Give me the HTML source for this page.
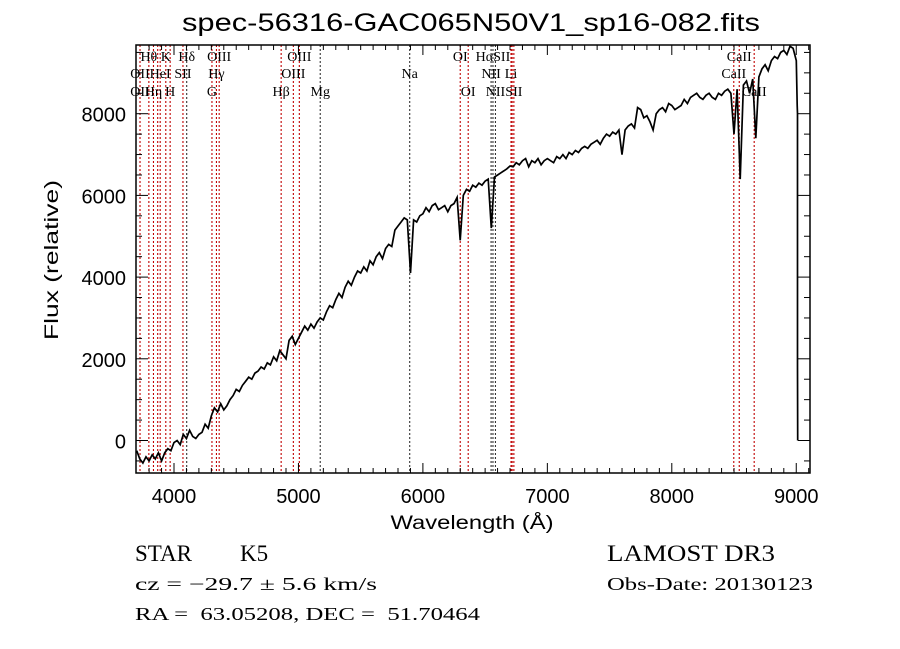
<!DOCTYPE html>
<html><head><meta charset="utf-8"><style>
html,body{margin:0;padding:0;background:#fff;}
svg{display:block;}
</style></head><body>
<svg id="chart" width="900" height="649" xmlns="http://www.w3.org/2000/svg">
<rect width="900" height="649" fill="#fff"/>
<text x="471" y="31" font-family="Liberation Sans, sans-serif" font-size="25" text-anchor="middle" textLength="578" lengthAdjust="spacingAndGlyphs">spec-56316-GAC065N50V1_sp16-082.fits</text>
<g id="lines"></g>
<g id="labels" font-family="Liberation Serif, serif" font-size="14"></g>
<g id="spec"></g>
<g id="axes"></g>
<text x="472" y="529" font-family="Liberation Sans, sans-serif" font-size="19" text-anchor="middle" textLength="163" lengthAdjust="spacingAndGlyphs">Wavelength (Å)</text>
<text transform="translate(58,260) rotate(-90)" font-family="Liberation Sans, sans-serif" font-size="19" text-anchor="middle" textLength="160" lengthAdjust="spacingAndGlyphs">Flux (relative)</text>
<g font-family="Liberation Serif, serif">
<text x="135" y="561" font-size="23">STAR</text>
<text x="240" y="561" font-size="23">K5</text>
<text x="135" y="590" font-size="18" textLength="242" lengthAdjust="spacingAndGlyphs">cz = −29.7 ± 5.6 km/s</text>
<text x="135" y="620" font-size="18" textLength="345" lengthAdjust="spacingAndGlyphs" xml:space="preserve">RA =  63.05208, DEC =  51.70464</text>
<text x="607" y="561" font-size="23" textLength="168" lengthAdjust="spacingAndGlyphs">LAMOST DR3</text>
<text x="607" y="590" font-size="18" textLength="206" lengthAdjust="spacingAndGlyphs">Obs-Date: 20130123</text>
</g>
</svg>
<script>
const fluxStart = 3700;
const fluxStep = 25;
const fluxValues = [
-250,-450,-550,-400,-500,-350,-450,-300,-500,-300,-200,-250,-50,
0,-100,150,50,250,100,50,150,200,400,300,600,
800,700,900,750,850,1000,1100,1250,1200,1350,1450,1550,
1500,1650,1700,1800,1750,1900,1850,2050,1950,2200,2100,2000,
2450,2550,2350,2500,2650,2800,2700,2850,2750,2900,3000,2950,
3150,3300,3250,3450,3600,3500,3750,3900,3800,4000,4150,4100,
4250,4150,4400,4300,4500,4600,4450,4700,4800,4750,5150,5250,
5350,5450,5400,4100,5400,5350,5500,5550,5700,5600,5750,5800,
5650,5700,5750,5600,5750,5800,5950,4900,6000,6150,6100,6250,
6200,6300,6250,6350,6400,5200,6450,6500,6550,6600,6650,6720,
6700,6800,6750,6850,6900,6700,6850,6800,6900,6750,6850,6900,
6850,6800,6950,6900,7000,6900,7050,7000,7100,7050,7150,7200,
7150,7250,7300,7350,7250,7400,7500,7450,7550,7500,7600,7000,
7600,7700,7750,7650,8150,8100,7900,7950,7800,7600,8000,8100,
8150,8050,8250,8200,8100,8150,8200,8350,8250,8400,8450,8500,
8400,8350,8450,8500,8400,8350,8500,8450,8550,8600,8500,7500,
8600,6400,8700,8800,8500,8850,7400,8900,9100,9200,9050,9300,
9400,9350,9500,9550,9450,9650,9600,9300
];
const tailWaves = [9008, 9010, 9010, 9012];
const tailFlux = [8200, 8000, 1800, 0];
const markerWaves = [3727,3798,3835,3869,3889,3934,3969,4072,4102,4305,4341,4363,4861,4959,5007,5175,5894,6300,6364,6548,6563,6583,6708,6717,6731,8498,8542,8662];
const markerRed = [1,1,1,1,1,1,1,1,0,1,1,1,1,1,1,0,0,1,1,0,0,0,1,1,1,1,1,1];
const labelText = ["Hθ","K","Hδ","OIII","OIII","OI","HαSII","CaII","OII","HeI","SII","Hγ","OIII","Na","NII","Li","CaII","OII","Hη","H","G","Hβ","Mg","OI","NII","SII","CaII"];
const labelWave = [3798,3934,4102,4363,5007,6300,6563,8542,3727,3889,4072,4341,4959,5894,6548,6708,8498,3727,3835,3969,4305,4861,5175,6364,6583,6731,8662];
const labelRow = [0,0,0,0,0,0,0,0,1,1,1,1,1,1,1,1,1,2,2,2,2,2,2,2,2,2,2];
const xTicks = [4000,5000,6000,7000,8000,9000];
const yTicks = [0,2000,4000,6000,8000];

const L=136,R=810,T=45,B=473;
const xs = w => 174 + (w-4000)*0.12445;
const ys = f => 440.5 - f*0.04085;
const NS='http://www.w3.org/2000/svg';
function mk(tag, parent, attrs){const e=document.createElementNS(NS,tag);for(const k in attrs)e.setAttribute(k,attrs[k]);parent.appendChild(e);return e;}

const lines=document.getElementById('lines');
markerWaves.forEach((w,i)=>{
  const e=mk('line',lines,{x1:xs(w),x2:xs(w),y1:T,y2:B,stroke:markerRed[i]?'#c00000':'#333','stroke-width':1.1,'stroke-dasharray':'2,2'});
  
  
});
const labs=document.getElementById('labels');
const rowY=[61,78,96];
labelText.forEach((t,i)=>{
  const e=mk('text',labs,{x:xs(labelWave[i]),y:rowY[labelRow[i]],'text-anchor':'middle'});
  e.textContent=t;
  
  
});

const spec=document.getElementById('spec');
let pts=fluxValues.map((f,i)=>xs(fluxStart+i*fluxStep).toFixed(1)+','+ys(f).toFixed(1));
tailWaves.forEach((w,i)=>pts.push(xs(w).toFixed(1)+','+ys(tailFlux[i]).toFixed(1)));
const pl=mk('polyline',spec,{points:pts.join(' '),fill:'none',stroke:'#000','stroke-width':1.7,'stroke-linejoin':'miter'});


spec.setAttribute('clip-path','url(#clip)');
const defs=mk('defs',document.getElementById('chart'),{});
const cp=mk('clipPath',defs,{id:'clip'});mk('rect',cp,{x:L,y:T,width:R-L,height:B-T});

const ax=document.getElementById('axes');
const frame=mk('rect',ax,{x:L,y:T,width:R-L,height:B-T,fill:'none',stroke:'#000','stroke-width':1.5});


for(let w=3800;w<=9100;w+=100){const x=xs(w);const big=w%1000===0;const len=big?10:5;
  mk('line',ax,{x1:x,x2:x,y1:B,y2:B-len,stroke:'#000','stroke-width':1});
  mk('line',ax,{x1:x,x2:x,y1:T,y2:T+len,stroke:'#000','stroke-width':1});}
for(let f=-500;f<=9500;f+=500){const y=ys(f);const big=f%2000===0;const len=big?12:6;
  mk('line',ax,{x1:L,x2:L+len,y1:y,y2:y,stroke:'#000','stroke-width':1});
  mk('line',ax,{x1:R,x2:R-len,y1:y,y2:y,stroke:'#000','stroke-width':1});}
xTicks.forEach(w=>{const e=mk('text',ax,{x:xs(w),y:503,'text-anchor':'middle','font-family':'Liberation Sans, sans-serif','font-size':20});
  e.textContent=w;
  
  });
yTicks.forEach(f=>{const e=mk('text',ax,{x:126,y:ys(f)+8,'text-anchor':'end','font-family':'Liberation Sans, sans-serif','font-size':20});
  e.textContent=f;
  
  });
</script>
</body></html>
